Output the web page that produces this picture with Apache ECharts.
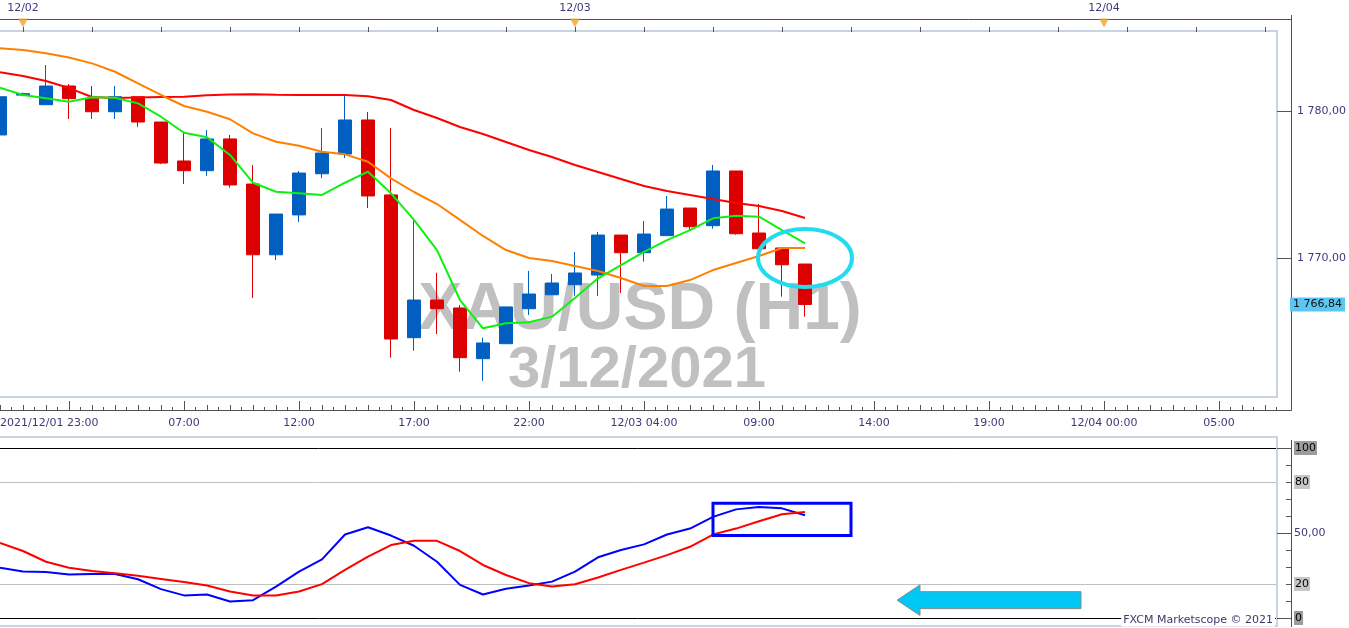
<!DOCTYPE html>
<html><head><meta charset="utf-8">
<script src="https://cdn.jsdelivr.net/npm/echarts@6/dist/echarts.min.js"></script>
<style>html,body{margin:0;padding:0;background:#fff;}#c{width:1349px;height:628px;}</style>
</head><body><div id="c"></div>
<script>
// ---------- data ----------
function pad(h){return (h<10?'0':'')+h;}
const categories = (function(){const a=['2021/12/01 23:00'];for(let h=0;h<=22;h++)a.push('12/02 '+pad(h)+':00');for(let h=0;h<=23;h++)a.push('12/03 '+pad(h)+':00');for(let h=0;h<=7;h++)a.push('12/04 '+pad(h)+':00');return a;})();
const labelIdx  = [0, 8, 13, 18, 23, 28, 33, 38, 43, 48, 53];
const labelText = ['2021/12/01 23:00','07:00','12:00','17:00','22:00','12/03 04:00','09:00','14:00','19:00','12/04 00:00','05:00'];
const dayIdx  = [1, 25, 48];
const dayText = ['12/02','12/03','12/04'];

const opens  = [1778.37,1781.08,1780.43,1781.70,1780.84,1779.95,1780.97,1779.25,1776.60,1775.94,1778.10,1775.03,1770.22,1772.93,1775.73,1777.07,1779.39,1774.29,1764.58,1767.14,1766.60,1763.15,1764.17,1766.55,1767.50,1768.18,1768.84,1771.56,1770.36,1771.52,1773.40,1772.20,1775.92,1771.70,1770.68,1769.59];
const closes = [1780.97,1781.18,1781.70,1780.84,1779.95,1780.97,1779.25,1776.46,1775.94,1778.10,1774.97,1770.22,1772.99,1775.78,1777.14,1779.39,1774.22,1764.49,1767.14,1766.55,1763.22,1764.22,1766.67,1767.55,1768.30,1768.98,1771.56,1770.36,1771.63,1773.33,1772.13,1775.92,1771.65,1770.63,1769.54,1766.84];
const lows   = [1778.37,1781.00,1780.43,1779.46,1779.46,1779.46,1778.93,1776.39,1775.03,1775.58,1774.78,1767.28,1769.86,1772.45,1775.44,1776.80,1773.40,1763.22,1763.69,1764.83,1762.27,1761.65,1764.17,1766.12,1767.50,1767.41,1767.41,1767.62,1769.75,1771.52,1771.90,1771.99,1771.59,1770.63,1767.37,1766.01];
const highs  = [1780.97,1781.25,1783.13,1781.84,1781.70,1781.70,1780.97,1779.25,1778.50,1778.71,1778.37,1776.33,1772.99,1775.92,1778.84,1781.09,1779.93,1778.84,1772.72,1769.00,1766.80,1764.58,1766.67,1769.12,1768.91,1770.41,1771.77,1771.56,1772.52,1774.22,1773.40,1776.33,1775.92,1773.67,1770.68,1769.59];

const maSlow = [1782.63,1782.38,1782.04,1781.56,1780.95,1780.88,1780.92,1780.95,1780.97,1781.07,1781.12,1781.14,1781.11,1781.09,1781.09,1781.09,1781.00,1780.75,1780.07,1779.52,1778.91,1778.44,1777.89,1777.35,1776.87,1776.33,1775.85,1775.37,1774.90,1774.56,1774.29,1774.01,1773.74,1773.54,1773.20,1772.72];
const maMid  = [1784.27,1784.15,1783.93,1783.64,1783.24,1782.67,1781.88,1781.09,1780.34,1779.95,1779.44,1778.48,1777.91,1777.64,1777.23,1777.05,1776.55,1775.42,1774.49,1773.67,1772.59,1771.50,1770.54,1770.00,1769.80,1769.46,1769.12,1768.64,1768.10,1768.10,1768.50,1769.18,1769.66,1770.14,1770.68,1770.68];
const maFast = [1781.59,1781.09,1780.86,1780.63,1780.93,1780.90,1780.52,1779.61,1778.52,1778.21,1777.01,1775.12,1774.51,1774.40,1774.29,1775.12,1775.87,1774.40,1772.59,1770.54,1767.14,1765.22,1765.56,1765.63,1766.01,1767.28,1768.62,1769.52,1770.41,1771.22,1771.90,1772.70,1772.88,1772.81,1771.90,1771.00];

const stochK = [29.6,27.3,27.1,25.6,25.9,25.9,22.8,17.0,13.3,13.8,9.7,10.5,18.5,27.3,34.5,49.1,53.4,48.5,42.5,33.1,19.5,13.8,17.2,19.1,21.4,27.3,35.7,40.0,43.3,49.1,52.6,59.5,63.9,65.3,64.5,60.4];
const stochD = [44.2,39.4,33.1,29.6,27.7,26.3,24.8,23.0,21.2,19.1,15.6,13.3,13.3,15.6,19.9,28.3,36.1,42.9,45.4,45.4,39.4,31.2,25.3,20.5,18.5,19.9,23.8,28.3,32.6,37.0,41.9,49.1,52.6,56.9,61.0,62.4];

// annotation anchors (data space)
const ellipseAt = [35, 1770.0];
const boxFrom = [31, 67.5], boxTo = [37, 48.5];
const arrowTip = [39, 10.5], arrowTail = 47;

// ---------- chart ----------
const axisColor = '#3b3b7a';
const FONT = 'DejaVu Sans';
const chart = echarts.init(document.getElementById('c'), null, {renderer:'canvas'});
const labelMap = {}; labelIdx.forEach((v,i)=>labelMap[v]=labelText[i]);
const dayMap = {}; dayIdx.forEach((v,i)=>dayMap[v]=dayText[i]);
function priceFmt(v){const s=v.toFixed(2).split('.');return s[0].replace(/\B(?=(\d{3})+(?!\d))/g,' ')+','+s[1];}

const G = {left:-11.5, width:1288, containLabel:false, outerBoundsMode:'none'};
const option = {
  animation:false,
  backgroundColor:'#fff',
  grid:[
    Object.assign({top:-36, height:441}, G),
    Object.assign({top:448, height:170}, G),
    Object.assign({top:19, height:8}, G)
  ],
  xAxis:[
    {type:'category', gridIndex:0, data:categories, position:'bottom', offset:5,
      axisLine:{show:false},
      axisTick:{show:true, alignWithLabel:true, inside:true, length:9, interval:(i)=>i%5===3, lineStyle:{color:'#555'}},
      axisLabel:{show:true, interval:(i)=>labelMap[i]!==undefined, formatter:(v,i)=>labelMap[i]||'', color:axisColor, fontFamily:FONT, fontSize:11, margin:8, alignMinLabel:'left'},
      splitLine:{show:false}},
    {type:'category', gridIndex:0, data:categories, position:'bottom', offset:5,
      axisLine:{show:false}, axisLabel:{show:false},
      axisTick:{show:true, alignWithLabel:true, inside:true, length:5, interval:0, lineStyle:{color:'#555'}}},
    {type:'category', gridIndex:0, data:categories, position:'bottom', offset:5,
      axisLine:{show:false}, axisLabel:{show:false},
      axisTick:{show:true, alignWithLabel:false, inside:true, length:3, interval:0, lineStyle:{color:'#555'}}},
    {type:'category', gridIndex:2, data:categories, position:'top', offset:0,
      axisLine:{show:false},
      axisTick:{show:true, alignWithLabel:true, inside:true, length:5, interval:(i)=>i%3===1, lineStyle:{color:'#555'}},
      axisLabel:{show:true, interval:(i)=>dayMap[i]!==undefined, formatter:(v,i)=>dayMap[i]||'', color:axisColor, fontFamily:FONT, fontSize:11, margin:5}},
    {type:'category', gridIndex:1, data:categories, show:false},
    {type:'category', gridIndex:2, data:categories, show:false}
  ],
  yAxis:[
    {type:'value', gridIndex:0, min:1760, max:1790, interval:10, position:'right', offset:14.5,
      axisLine:{show:false}, splitLine:{show:false},
      axisTick:{show:true, inside:true, length:14, lineStyle:{color:'#555'}},
      axisLabel:{showMinLabel:false, showMaxLabel:false, formatter:priceFmt, color:axisColor, fontFamily:FONT, fontSize:11, margin:6}},
    {type:'value', gridIndex:1, min:0, max:100, interval:10, position:'right', offset:14.5,
      axisLine:{show:false},
      axisTick:{show:true, inside:true, length:5, lineStyle:{color:'#555'}},
      splitLine:{show:true, lineStyle:{width:1, color:['#000','rgba(0,0,0,0)','#c0c0c0','rgba(0,0,0,0)','rgba(0,0,0,0)','rgba(0,0,0,0)','rgba(0,0,0,0)','rgba(0,0,0,0)','#c0c0c0','rgba(0,0,0,0)','#000']}},
      axisLabel:{margin:3, fontFamily:FONT, fontSize:11,
        formatter:(v)=>v===100?'{d|100}':v===80?'{l|80}':v===50?'{m|50,00}':v===20?'{l|20}':v===0?'{d|0}':'',
        rich:{d:{backgroundColor:'#9c9c9c', color:'#000', fontFamily:FONT, fontSize:11, padding:[2,1,1,1]},
              l:{backgroundColor:'#c6c6c6', color:'#000', fontFamily:FONT, fontSize:11, padding:[2,1,1,1]},
              m:{color:axisColor, fontFamily:FONT, fontSize:11}}}},
    {type:'value', gridIndex:1, min:0, max:100, interval:50, position:'right', offset:14.5,
      axisLine:{show:false}, splitLine:{show:false}, axisLabel:{show:false},
      axisTick:{show:true, inside:true, length:14, lineStyle:{color:'#555'}}},
    {type:'value', gridIndex:2, min:0, max:1, show:false}
  ],
  series:[
    {type:'candlestick', xAxisIndex:0, yAxisIndex:0, barWidth:14,
      data:opens.map((o,i)=>[o, closes[i], lows[i], highs[i]]),
      itemStyle:{color:'#005fc0', color0:'#dc0000', borderColor:'#005fc0', borderColor0:'#dc0000', borderWidth:1}},
    {type:'line', xAxisIndex:0, yAxisIndex:0, data:maSlow, showSymbol:false, lineStyle:{color:'#ff0000', width:2}},
    {type:'line', xAxisIndex:0, yAxisIndex:0, data:maMid, showSymbol:false, lineStyle:{color:'#ff8000', width:2}},
    {type:'line', xAxisIndex:0, yAxisIndex:0, data:maFast, showSymbol:false, lineStyle:{color:'#10f010', width:2}},
    {type:'line', xAxisIndex:4, yAxisIndex:1, data:stochK, showSymbol:false, lineStyle:{color:'#0000ff', width:2}},
    {type:'line', xAxisIndex:4, yAxisIndex:1, data:stochD, showSymbol:false, lineStyle:{color:'#ff0000', width:2}},
    {type:'scatter', xAxisIndex:5, yAxisIndex:3, symbol:'triangle', symbolRotate:180, symbolSize:[10,9],
      data:dayIdx.map(i=>[i,0.5]), itemStyle:{color:'#f5a230'}, clip:false}
  ]
};
chart.setOption(option);

const px0 = (p)=>chart.convertToPixel({xAxisIndex:0, yAxisIndex:0}, p);
const px1 = (p)=>chart.convertToPixel({xAxisIndex:4, yAxisIndex:1}, p);
const e = px0(ellipseAt);
const b1 = px1(boxFrom), b2 = px1(boxTo);
const at = px1(arrowTip), atail = px1([arrowTail, arrowTip[1]]);
const yU = px1([0,0])[1]-px1([0,1])[1];
const last = px0([closes.length-1, closes[closes.length-1]]);
const lineC = '#505050';
const ax = at[0], ay = at[1], hx = ax+23, sh = 5*yU, hh = 9*yU;

chart.setOption({graphic:[
  {type:'rect', z:0, shape:{x:-5,y:31,width:1282,height:366}, style:{fill:'none', stroke:'#cad4e0', lineWidth:2}},
  {type:'rect', z:0, shape:{x:-5,y:437,width:1282,height:189}, style:{fill:'none', stroke:'#cad4e0', lineWidth:2}},
  {type:'line', z:0, shape:{x1:0,y1:19.5,x2:1291.5,y2:19.5}, style:{stroke:lineC, lineWidth:1}},
  {type:'line', z:0, shape:{x1:0,y1:410.5,x2:1291.5,y2:410.5}, style:{stroke:lineC, lineWidth:1}},
  {type:'line', z:0, shape:{x1:1291.5,y1:15,x2:1291.5,y2:410.5}, style:{stroke:lineC, lineWidth:1}},
  {type:'line', z:0, shape:{x1:1291.5,y1:440,x2:1291.5,y2:627}, style:{stroke:lineC, lineWidth:1}},
  {type:'text', z:0, style:{text:'XAU/USD (H1)', x:640, y:311, align:'center', verticalAlign:'middle', font:'bold 66px "Liberation Sans"', fill:'#c0c0c0'}},
  {type:'text', z:0, style:{text:'3/12/2021', x:637, y:371, align:'center', verticalAlign:'middle', font:'bold 58px "Liberation Sans"', fill:'#c0c0c0'}},
  {type:'text', z:50, style:{text:priceFmt(closes[closes.length-1]), x:1290, y:last[1], align:'left', verticalAlign:'middle', font:'11px "DejaVu Sans"', fill:'#111', backgroundColor:'#5cc6f2', padding:[2,3,1,3]}},
  {type:'ellipse', z:100, shape:{cx:e[0], cy:e[1], rx:47, ry:29}, style:{fill:'none', stroke:'#22dcee', lineWidth:4}},
  {type:'rect', z:100, shape:{x:b1[0], y:b1[1], width:b2[0]-b1[0], height:b2[1]-b1[1]}, style:{fill:'none', stroke:'#0000ff', lineWidth:3}},
  {type:'polygon', z:100, shape:{points:[[ax,ay],[hx,ay-hh],[hx,ay-sh],[atail[0],ay-sh],[atail[0],ay+sh],[hx,ay+sh],[hx,ay+hh]]}, style:{fill:'#00c8f5', stroke:'#8a8a8a', lineWidth:1}},
  {type:'text', z:100, style:{text:'FXCM Marketscope © 2021', x:1275, y:620, align:'right', verticalAlign:'middle', font:'11px "DejaVu Sans"', fill:'#3a3a6a', backgroundColor:'#fff', padding:[1,2,1,2]}}
]});
</script></body></html>
